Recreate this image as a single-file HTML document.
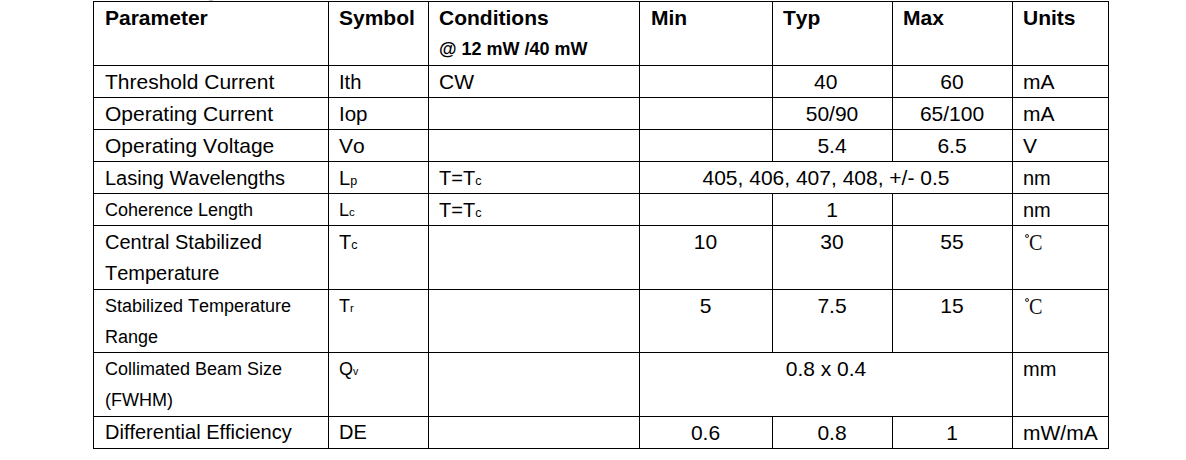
<!DOCTYPE html>
<html><head><meta charset="utf-8">
<style>
html,body{margin:0;padding:0;background:#fff;}
body{width:1186px;height:460px;position:relative;overflow:hidden;font-family:"Liberation Sans",sans-serif;color:#000;}
.v,.h{position:absolute;background:#000;}
.t{position:absolute;font-kerning:none;white-space:nowrap;font-size:21px;line-height:24px;}
.b{font-weight:bold;}
.s{font-size:18px;}
.c{text-align:center;}
sub{font-size:12.5px;vertical-align:baseline;line-height:0;}
.m{font-size:20px;}
.dg{position:absolute;width:4.8px;height:4.8px;border:0.9px solid #222;border-radius:50%;box-sizing:border-box;}
.dc{position:absolute;font-family:"Liberation Serif",serif;font-size:24px;line-height:28px;transform:scaleX(.84);transform-origin:left top;color:#111;}
</style></head><body>
<!-- horizontal lines -->
<div class="h" style="left:93px;top:1px;width:1016px;height:1px"></div>
<div class="h" style="left:93px;top:65px;width:1016px;height:1px"></div>
<div class="h" style="left:93px;top:97px;width:1016px;height:1px"></div>
<div class="h" style="left:93px;top:129px;width:1016px;height:1px"></div>
<div class="h" style="left:93px;top:161px;width:1016px;height:1px"></div>
<div class="h" style="left:93px;top:193px;width:1016px;height:1px"></div>
<div class="h" style="left:93px;top:225px;width:1016px;height:1px"></div>
<div class="h" style="left:93px;top:289px;width:1016px;height:1px"></div>
<div class="h" style="left:93px;top:352px;width:1016px;height:1px"></div>
<div class="h" style="left:93px;top:416px;width:1016px;height:1px"></div>
<div class="h" style="left:93px;top:448px;width:1016px;height:1px"></div>
<div style="position:absolute;left:209px;top:0;width:4px;height:1px;background:#c8c8c8"></div>
<!-- vertical lines -->
<div class="v" style="left:93px;top:1px;width:1px;height:448px"></div>
<div class="v" style="left:328px;top:1px;width:1px;height:448px"></div>
<div class="v" style="left:428px;top:1px;width:1px;height:448px"></div>
<div class="v" style="left:639px;top:1px;width:1px;height:448px"></div>
<div class="v" style="left:772px;top:1px;width:1px;height:160px"></div>
<div class="v" style="left:772px;top:193px;width:1px;height:160px"></div>
<div class="v" style="left:772px;top:416px;width:1px;height:33px"></div>
<div class="v" style="left:892px;top:1px;width:1px;height:160px"></div>
<div class="v" style="left:892px;top:193px;width:1px;height:160px"></div>
<div class="v" style="left:892px;top:416px;width:1px;height:33px"></div>
<div class="v" style="left:1012px;top:1px;width:1px;height:448px"></div>
<div class="v" style="left:1108px;top:1px;width:1px;height:448px"></div>

<div class="t b" style="left:105px;top:6px">Parameter</div>
<div class="t b" style="left:339px;top:6px">Symbol</div>
<div class="t b" style="left:439px;top:6px">Conditions</div>
<div class="t b s" style="left:439px;top:37px">@ 12 mW /40 mW</div>
<div class="t b" style="left:651px;top:6px">Min</div>
<div class="t b" style="left:783px;top:6px">Typ</div>
<div class="t b" style="left:903px;top:6px">Max</div>
<div class="t b" style="left:1023px;top:6px">Units</div>

<div class="t" style="left:105px;top:70px">Threshold Current</div>
<div class="t" style="left:339px;top:70px;font-size:20.2px">Ith</div>
<div class="t" style="left:439px;top:70px">CW</div>
<div class="t c" style="left:772px;width:107.6px;top:70px">40</div>
<div class="t c" style="left:893px;width:118px;top:70px">60</div>
<div class="t" style="left:1023px;top:70px">mA</div>

<div class="t" style="left:105px;top:102px">Operating Current</div>
<div class="t" style="left:339px;top:102px;font-size:20.5px">Iop</div>
<div class="t c" style="left:772px;width:120px;top:102px">50/90</div>
<div class="t c" style="left:893px;width:118px;top:102px">65/100</div>
<div class="t" style="left:1023px;top:102px">mA</div>

<div class="t" style="left:105px;top:134px">Operating Voltage</div>
<div class="t" style="left:339px;top:134px">Vo</div>
<div class="t c" style="left:772px;width:120px;top:134px">5.4</div>
<div class="t c" style="left:893px;width:118px;top:134px">6.5</div>
<div class="t" style="left:1023px;top:134px">V</div>

<div class="t m" style="left:105px;top:166px">Lasing Wavelengths</div>
<div class="t m" style="left:339px;top:166px">L<sub>p</sub></div>
<div class="t m" style="left:439px;top:166px">T=T<sub>c</sub></div>
<div class="t c" style="left:639px;width:374px;top:166px">405, 406, 407, 408, +/- 0.5</div>
<div class="t m" style="left:1023px;top:166px">nm</div>

<div class="t s" style="left:105px;top:198px">Coherence Length</div>
<div class="t s" style="left:339px;top:198px">L<sub style="font-size:11.5px">c</sub></div>
<div class="t m" style="left:439px;top:198px">T=T<sub>c</sub></div>
<div class="t c" style="left:772px;width:120px;top:198px">1</div>
<div class="t m" style="left:1023px;top:198px">nm</div>

<div class="t m" style="left:105px;top:230px">Central Stabilized</div>
<div class="t m" style="left:105px;top:261px">Temperature</div>
<div class="t m" style="left:339px;top:230px">T<sub>c</sub></div>
<div class="t c" style="left:639px;width:133px;top:230px">10</div>
<div class="t c" style="left:772px;width:120px;top:230px">30</div>
<div class="t c" style="left:893px;width:118px;top:230px">55</div>
<div class="dg" style="left:1024.6px;top:233.7px"></div><div class="dc" style="left:1029px;top:228px">C</div>

<div class="t s" style="left:105px;top:294px">Stabilized Temperature</div>
<div class="t s" style="left:105px;top:325px">Range</div>
<div class="t s" style="left:339px;top:294px">T<sub style="font-size:11.5px">r</sub></div>
<div class="t c" style="left:639px;width:133px;top:294px">5</div>
<div class="t c" style="left:772px;width:120px;top:294px">7.5</div>
<div class="t c" style="left:893px;width:118px;top:294px">15</div>
<div class="dg" style="left:1024.6px;top:297.7px"></div><div class="dc" style="left:1029px;top:292px">C</div>

<div class="t s" style="left:105px;top:357px">Collimated Beam Size</div>
<div class="t s" style="left:105px;top:388px">(FWHM)</div>
<div class="t s" style="left:339px;top:357px">Q<sub style="font-size:10.5px">v</sub></div>
<div class="t c" style="left:639px;width:374px;top:357px">0.8 x 0.4</div>
<div class="t m" style="left:1023px;top:357px">mm</div>

<div class="t m" style="left:105px;top:420px">Differential Efficiency</div>
<div class="t m" style="left:339px;top:420px">DE</div>
<div class="t c" style="left:639px;width:133px;top:421px">0.6</div>
<div class="t c" style="left:772px;width:120px;top:421px">0.8</div>
<div class="t c" style="left:893px;width:118px;top:421px">1</div>
<div class="t" style="left:1023px;top:421px">mW/mA</div>
</body></html>
